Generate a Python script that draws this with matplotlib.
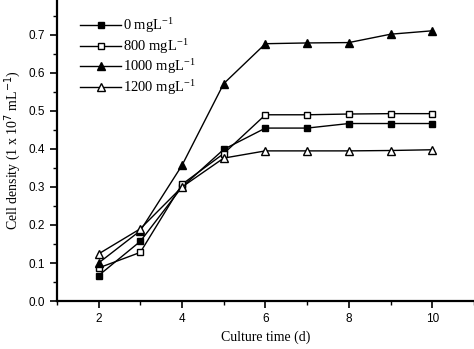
import matplotlib
matplotlib.use("Agg")
import matplotlib.pyplot as plt
from matplotlib.ticker import MultipleLocator

days = [2, 3, 4, 5, 6, 7, 8, 9, 10]
c0 = [0.067, 0.157, 0.300, 0.399, 0.455, 0.455, 0.467, 0.467, 0.467]
c800 = [0.087, 0.128, 0.307, 0.388, 0.490, 0.490, 0.492, 0.493, 0.493]
c1000 = [0.100, 0.185, 0.357, 0.572, 0.677, 0.679, 0.680, 0.702, 0.711]
c1200 = [0.124, 0.190, 0.300, 0.376, 0.395, 0.395, 0.395, 0.396, 0.398]
labels = ["0 mgL$^{-1}$", "800 mgL$^{-1}$", "1000 mgL$^{-1}$", "1200 mgL$^{-1}$"]

fig = plt.figure(figsize=(4.74, 3.49), dpi=100)
ax = fig.add_axes([0.12, 0.1375, 0.88, 0.8625])

serif = "Liberation Serif"
sans = "Liberation Sans"
plt.rcParams['mathtext.fontset'] = 'custom'
plt.rcParams['mathtext.rm'] = serif
plt.rcParams['mathtext.it'] = serif

ax.plot(days, c0, '-s', color='black', mfc='black', ms=5, lw=1, label=labels[0])
ax.plot(days, c800, '-s', color='black', mfc='white', ms=5, lw=1, label=labels[1])
ax.plot(days, c1000, '-^', color='black', mfc='black', ms=6, lw=1, label=labels[2])
ax.plot(days, c1200, '-^', color='black', mfc='white', ms=6, lw=1, label=labels[3])

ax.set_xlim(1, 11)
ax.set_ylim(0, 0.792)
ax.xaxis.set_minor_locator(MultipleLocator(1))
ax.yaxis.set_major_locator(MultipleLocator(0.1))
ax.yaxis.set_minor_locator(MultipleLocator(0.05))
ax.yaxis.set_major_formatter(matplotlib.ticker.FormatStrFormatter('%.1f'))
ax.set_xticks([2, 4, 6, 8, 10])

for s in ['top', 'right']:
    ax.spines[s].set_visible(False)
for s in ['left', 'bottom']:
    ax.spines[s].set_linewidth(1.6)

ax.tick_params(which='major', direction='out', length=5, width=1.2, labelsize=8.5)
ax.tick_params(which='minor', direction='out', length=3, width=1.0)
for lab in ax.get_xticklabels() + ax.get_yticklabels():
    lab.set_fontfamily(sans)

ax.set_xlabel("Culture time (d)", fontfamily=serif, fontsize=10)
ax.set_ylabel("Cell density (1 x 10$^{7}$ mL$^{-1}$)", fontfamily=serif, fontsize=10)

leg = ax.legend(loc='upper left', bbox_to_anchor=(0.035, 0.975), frameon=False,
                prop={'family': serif, 'size': 10.5}, handlelength=2.8,
                labelspacing=0.12, handletextpad=0.15, borderaxespad=0.2)

fig.savefig("out.png", dpi=100)
